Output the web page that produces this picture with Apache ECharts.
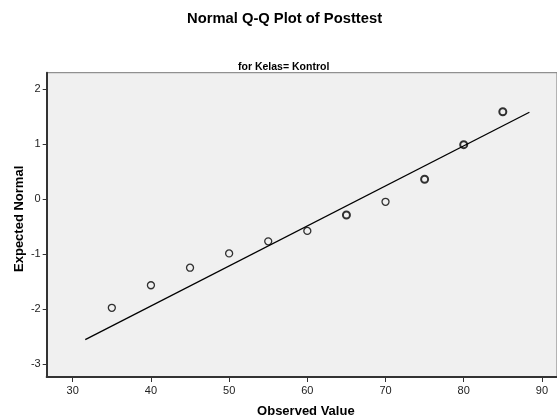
<!DOCTYPE html>
<html>
<head>
<meta charset="utf-8">
<script src="https://cdn.jsdelivr.net/npm/echarts@6/dist/echarts.min.js"></script>
<style>
  html, body { margin: 0; padding: 0; background: #fff; }
  #main { width: 557px; height: 418px; }
</style>
</head>
<body>
<div id="main"></div>
<script>
var observed = [35, 40, 45, 50, 55, 60, 65, 70, 75, 80, 85];
var expected = [-1.98, -1.57, -1.25, -0.99, -0.77, -0.58, -0.29, -0.05, 0.36, 0.99, 1.59];
// points drawn with a thicker ring (several cases on the same spot)
var repeated = [0, 0, 0, 0, 0, 0, 1, 0, 1, 1, 1];
// reference line ends
var lineX = [31.6, 88.4];
var lineY = [-2.56, 1.58];
var xTicks = [30, 40, 50, 60, 70, 80, 90];
var yTicks = [-3, -2, -1, 0, 1, 2];

var font = 'Liberation Sans, Arial, sans-serif';

var points = [];
for (var i = 0; i < observed.length; i++) {
	points.push({
		value: [observed[i], expected[i]],
		itemStyle: { borderWidth: repeated[i] ? 2 : 1.3 }
	});
}
var linePts = [];
for (var j = 0; j < lineX.length; j++) {
	linePts.push([lineX[j], lineY[j]]);
}

var chart = echarts.init(document.getElementById('main'), null, { renderer: 'canvas' });
chart.setOption({
	animation: false,
	backgroundColor: '#fff',
	title: [
		{
			text: 'Normal Q-Q Plot of Posttest',
			left: 182, top: 6,
			textStyle: { fontFamily: font, fontSize: 14.75, fontWeight: 'bold', color: '#000' }
		},
		{
			text: 'for Kelas= Kontrol',
			left: 233, top: 57,
			textStyle: { fontFamily: font, fontSize: 10.5, fontWeight: 'bold', color: '#000' }
		}
	],
	grid: {
		left: 46.7, top: 72.7, right: 0, bottom: 41,
		outerBoundsMode: 'none',
		containLabel: false,
		show: true,
		backgroundColor: '#f0f0f0',
		borderColor: '#777',
		borderWidth: 1
	},
	xAxis: {
		type: 'value',
		min: 26.67, max: 91.93,
		name: 'Observed Value',
		nameLocation: 'middle',
		nameGap: 28,
		nameMoveOverlap: false,
		nameTextStyle: { fontFamily: font, fontSize: 13, fontWeight: 'bold', color: '#000', padding: [0, 0, 0, 8] },
		axisLine: { show: true, onZero: false, lineStyle: { color: '#333', width: 2 } },
		axisTick: { show: true, length: 5, customValues: xTicks, lineStyle: { color: '#333' } },
		axisLabel: { customValues: xTicks, fontFamily: font, fontSize: 11, color: '#222', margin: 8 },
		splitLine: { show: false }
	},
	yAxis: {
		type: 'value',
		min: -3.24, max: 2.30,
		name: 'Expected Normal',
		nameLocation: 'middle',
		nameGap: 21,
		nameRotate: 90,
		nameMoveOverlap: false,
		nameTextStyle: { fontFamily: font, fontSize: 13, fontWeight: 'bold', color: '#000', padding: [0, 0, 0, 12] },
		axisLine: { show: true, onZero: false, lineStyle: { color: '#333', width: 2 } },
		axisTick: { show: true, length: 4, customValues: yTicks, lineStyle: { color: '#333' } },
		axisLabel: { customValues: yTicks, fontFamily: font, fontSize: 11, color: '#222', margin: 6 },
		splitLine: { show: false }
	},
	series: [
		{
			type: 'line',
			data: linePts,
			symbol: 'none',
			silent: true,
			lineStyle: { color: '#000', width: 1.3 }
		},
		{
			type: 'scatter',
			data: points,
			symbol: 'circle',
			symbolSize: 7,
			itemStyle: { color: '#f0f0f0', borderColor: '#000' }
		}
	]
});
</script>
</body>
</html>
